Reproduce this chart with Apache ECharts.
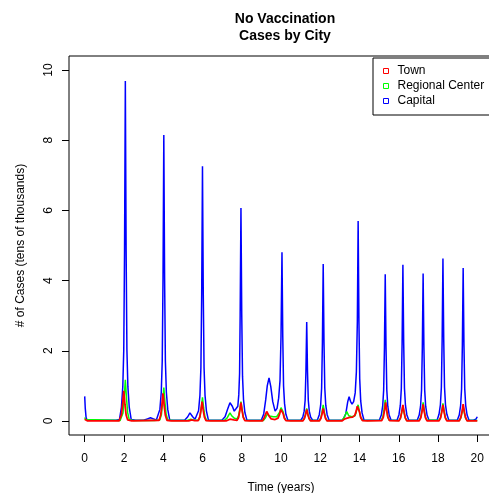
<!DOCTYPE html>
<html>
<head>
<meta charset="utf-8">
<script src="https://cdn.jsdelivr.net/npm/echarts@6/dist/echarts.min.js"></script>
<style>
  html, body { margin: 0; padding: 0; background: #fff; }
  #chart { width: 489px; height: 493px; }
</style>
</head>
<body>
<div id="chart"></div>
<script>
// time (years), cases (tens of thousands)
var capitalPts = [
  [0,0.70],[0.03,0.35],[0.07,0.10],[0.12,0.03],[0.3,0.02],[1.6,0.02],
  [1.77,0.04],[1.87,0.39],[1.94,0.97],[1.99,2.03],[2.03,4.85],[2.07,9.69],[2.11,4.85],[2.15,2.03],[2.20,0.97],[2.27,0.39],[2.37,0.04],
  [2.6,0.02],[3.0,0.02],[3.2,0.06],[3.35,0.09],[3.5,0.06],[3.65,0.03],
  [3.73,0.03],[3.83,0.33],[3.90,0.82],[3.95,1.71],[3.99,4.08],[4.03,8.15],[4.07,4.08],[4.11,1.71],[4.16,0.82],[4.23,0.33],[4.33,0.03],
  [4.6,0.02],[5.1,0.03],[5.25,0.12],[5.36,0.23],[5.5,0.12],[5.62,0.05],
  [5.70,0.03],[5.80,0.29],[5.87,0.73],[5.92,1.52],[5.96,3.63],[6.00,7.26],[6.04,3.63],[6.08,1.52],[6.13,0.73],[6.20,0.29],[6.30,0.03],
  [6.6,0.02],[7.0,0.03],[7.15,0.12],[7.27,0.32],[7.4,0.52],[7.52,0.42],[7.62,0.28],[7.72,0.25],[7.80,0.42],[7.85,0.75],[7.89,1.35],[7.92,3.04],[7.96,6.07],[8.00,3.04],[8.04,1.27],[8.09,0.61],[8.16,0.24],[8.26,0.03],
  [8.6,0.02],[9.0,0.03],[9.12,0.2],[9.22,0.6],[9.3,1.0],[9.39,1.23],[9.48,0.98],[9.58,0.55],[9.7,0.28],[9.8,0.36],[9.88,0.65],[9.95,1.15],[10.0,2.4],[10.05,4.81],[10.09,2.4],[10.13,1.0],[10.18,0.5],[10.25,0.19],[10.35,0.02],
  [10.7,0.02],[11.01,0.02],[11.11,0.11],[11.18,0.28],[11.23,0.59],[11.27,1.41],[11.31,2.82],[11.35,1.41],[11.39,0.59],[11.44,0.28],[11.51,0.11],[11.61,0.02],
  [11.85,0.02],[11.95,0.18],[12.02,0.45],[12.07,0.94],[12.11,2.24],[12.15,4.47],[12.19,2.24],[12.23,0.94],[12.28,0.45],[12.35,0.18],[12.45,0.02],
  [12.9,0.02],[13.15,0.03],[13.3,0.2],[13.4,0.55],[13.47,0.69],[13.54,0.56],[13.62,0.48],[13.7,0.55],[13.78,0.8],[13.84,1.4],[13.89,2.85],[13.93,5.70],[13.97,2.85],[14.01,1.2],[14.06,0.57],[14.13,0.23],[14.23,0.02],
  [14.7,0.02],[15.01,0.02],[15.11,0.17],[15.18,0.42],[15.23,0.88],[15.27,2.09],[15.31,4.18],[15.35,2.09],[15.39,0.88],[15.44,0.42],[15.51,0.17],[15.61,0.02],
  [15.91,0.02],[16.01,0.18],[16.08,0.45],[16.13,0.93],[16.17,2.23],[16.21,4.45],[16.25,2.23],[16.29,0.93],[16.34,0.45],[16.41,0.18],[16.51,0.02],
  [16.94,0.02],[17.04,0.17],[17.11,0.42],[17.16,0.88],[17.20,2.1],[17.24,4.2],[17.28,2.1],[17.32,0.88],[17.37,0.42],[17.44,0.17],[17.54,0.02],
  [17.95,0.02],[18.05,0.19],[18.12,0.46],[18.17,0.97],[18.21,2.32],[18.25,4.63],[18.29,2.32],[18.33,0.97],[18.38,0.46],[18.45,0.19],[18.55,0.02],
  [18.98,0.02],[19.08,0.17],[19.15,0.44],[19.20,0.92],[19.24,2.18],[19.28,4.36],[19.32,2.18],[19.36,0.92],[19.41,0.44],[19.48,0.17],[19.58,0.02],
  [19.8,0.02],[19.93,0.05],[20.0,0.12]
];
var regionalPts = [
  [0,0.1],[0.05,0.04],[0.12,0.01],[1.8,0.01],
  [1.87,0.04],[1.95,0.23],[2.01,0.64],[2.07,1.17],[2.13,0.64],[2.19,0.23],[2.27,0.04],[2.5,0.01],
  [3.3,0.01],[3.4,0.03],[3.55,0.01],
  [3.83,0.03],[3.91,0.19],[3.97,0.52],[4.03,0.95],[4.09,0.52],[4.15,0.19],[4.23,0.03],[4.5,0.01],
  [5.2,0.01],[5.4,0.05],[5.6,0.02],
  [5.80,0.02],[5.88,0.13],[5.94,0.37],[6.00,0.67],[6.06,0.37],[6.12,0.13],[6.20,0.02],[6.5,0.01],
  [7.1,0.01],[7.25,0.08],[7.4,0.23],[7.5,0.14],[7.62,0.08],[7.76,0.06],[7.84,0.15],[7.90,0.32],[7.96,0.55],[8.02,0.32],[8.08,0.11],[8.16,0.02],[8.4,0.01],
  [9.1,0.01],[9.2,0.08],[9.3,0.2],[9.42,0.14],[9.6,0.12],[9.78,0.12],[9.87,0.15],[9.94,0.26],[10.0,0.38],[10.05,0.43],[10.11,0.26],[10.17,0.1],[10.25,0.02],[10.5,0.01],
  [11.11,0.01],[11.19,0.07],[11.25,0.2],[11.31,0.36],[11.37,0.2],[11.43,0.07],[11.51,0.01],
  [11.95,0.01],[12.03,0.09],[12.09,0.25],[12.15,0.46],[12.21,0.25],[12.27,0.09],[12.35,0.01],
  [13.1,0.01],[13.22,0.1],[13.35,0.27],[13.45,0.15],[13.6,0.12],[13.75,0.14],[13.82,0.22],[13.88,0.38],[13.93,0.46],[13.99,0.28],[14.06,0.1],[14.15,0.02],[14.4,0.01],
  [15.11,0.02],[15.19,0.12],[15.25,0.33],[15.31,0.60],[15.37,0.33],[15.43,0.12],[15.51,0.02],
  [16.01,0.01],[16.09,0.09],[16.15,0.24],[16.21,0.43],[16.27,0.24],[16.33,0.09],[16.41,0.01],
  [17.04,0.02],[17.12,0.11],[17.18,0.29],[17.24,0.53],[17.30,0.29],[17.36,0.11],[17.44,0.02],
  [18.05,0.02],[18.13,0.1],[18.19,0.28],[18.25,0.50],[18.31,0.28],[18.37,0.1],[18.45,0.02],
  [19.08,0.01],[19.16,0.08],[19.22,0.23],[19.28,0.41],[19.34,0.23],[19.40,0.08],[19.48,0.01],
  [20.0,0.01]
];
var townPts = [
  [0,0.05],[0.06,0.01],[0.15,0],[1.75,0],
  [1.79,0.03],[1.87,0.17],[1.93,0.47],[1.99,0.86],[2.05,0.47],[2.11,0.17],[2.19,0.03],[2.4,0],
  [3.79,0.02],[3.87,0.16],[3.93,0.43],[3.99,0.79],[4.05,0.43],[4.11,0.16],[4.19,0.02],[4.4,0],
  [5.3,0],[5.45,0.03],[5.6,0.01],
  [5.78,0.01],[5.86,0.11],[5.92,0.3],[5.98,0.55],[6.04,0.3],[6.10,0.11],[6.18,0.01],[6.4,0],
  [7.2,0],[7.4,0.05],[7.6,0.03],[7.76,0.02],[7.84,0.1],[7.90,0.29],[7.96,0.52],[8.02,0.29],[8.08,0.1],[8.16,0.01],[8.4,0],
  [9.05,0],[9.15,0.1],[9.27,0.27],[9.38,0.15],[9.5,0.06],[9.7,0.04],[9.85,0.08],[9.93,0.2],[9.99,0.33],[10.05,0.38],[10.11,0.21],[10.17,0.08],[10.25,0.01],[10.5,0],
  [11.11,0],[11.19,0.07],[11.25,0.18],[11.31,0.33],[11.37,0.18],[11.43,0.07],[11.51,0],
  [11.95,0],[12.03,0.07],[12.09,0.2],[12.15,0.36],[12.21,0.2],[12.27,0.07],[12.35,0],
  [13.1,0],[13.25,0.06],[13.35,0.1],[13.5,0.1],[13.65,0.11],[13.76,0.16],[13.83,0.28],[13.89,0.42],[13.94,0.47],[14.0,0.26],[14.06,0.1],[14.15,0.01],[14.4,0],
  [15.13,0.01],[15.21,0.1],[15.27,0.29],[15.33,0.53],[15.39,0.29],[15.45,0.1],[15.53,0.01],
  [16.01,0],[16.09,0.09],[16.15,0.25],[16.21,0.46],[16.27,0.25],[16.33,0.09],[16.41,0],
  [17.04,0],[17.12,0.09],[17.18,0.26],[17.24,0.47],[17.30,0.26],[17.36,0.09],[17.44,0],
  [18.05,0],[18.13,0.09],[18.19,0.25],[18.25,0.46],[18.31,0.25],[18.37,0.09],[18.45,0],
  [19.08,0],[19.16,0.1],[19.22,0.26],[19.28,0.48],[19.34,0.26],[19.40,0.1],[19.48,0],
  [20.0,0]
];
var xTicks = [0, 2, 4, 6, 8, 10, 12, 14, 16, 18, 20];
var yTicks = [0, 2, 4, 6, 8, 10];

var font = '"Liberation Sans", Arial, Helvetica, sans-serif';
var chart = echarts.init(document.getElementById("chart"));

var option = {
  animation: false,
  backgroundColor: "#fff",
  textStyle: { fontFamily: font, color: "#000" },
  title: {
    text: "No Vaccination\nCases by City",
    left: 280,
    top: 6,
    textAlign: "center",
    textStyle: { fontFamily: font, fontSize: 14, fontWeight: "bold", color: "#000", lineHeight: 17 }
  },
  legend: {
    orient: "vertical",
    left: 373,
    top: 58,
    padding: [6, 30, 7, 10],
    itemGap: 1,
    itemWidth: 5,
    itemHeight: 5,
    icon: "rect",
    borderColor: "#000",
    borderWidth: 1,
    backgroundColor: "#fff",
    textStyle: { fontFamily: font, fontSize: 12, color: "#000", lineHeight: 14, padding: [0, 0, 0, 4] },
    data: [
      { name: "Town", itemStyle: { color: "#fff", borderColor: "#ff0000", borderWidth: 1 } },
      { name: "Regional Center", itemStyle: { color: "#fff", borderColor: "#00ff00", borderWidth: 1 } },
      { name: "Capital", itemStyle: { color: "#fff", borderColor: "#0000ff", borderWidth: 1 } }
    ]
  },
  grid: {
    left: 69,
    top: 56,
    width: 424,
    height: 379,
    outerBoundsMode: "none",
    containLabel: false,
    show: true,
    borderColor: "#000",
    borderWidth: 1
  },
  xAxis: {
    type: "value",
    min: -0.8,
    max: 20.8,
    name: "Time (years)",
    nameLocation: "middle",
    nameGap: 47,
    nameTextStyle: { fontFamily: font, fontSize: 12, color: "#000" },
    splitLine: { show: false },
    axisLine: { show: false, onZero: false },
    axisTick: { show: true, length: 7, customValues: xTicks, lineStyle: { color: "#000" } },
    axisLabel: { customValues: xTicks, margin: 18, fontFamily: font, fontSize: 12, color: "#000" }
  },
  yAxis: {
    type: "value",
    min: -0.4,
    max: 10.4,
    name: "# of Cases (tens of thousands)",
    nameLocation: "middle",
    nameGap: 42,
    nameTextStyle: { fontFamily: font, fontSize: 12, color: "#000" },
    splitLine: { show: false },
    axisLine: { show: false, onZero: false },
    axisTick: { show: true, length: 7, customValues: yTicks, lineStyle: { color: "#000" } },
    axisLabel: { customValues: yTicks, rotate: 90, margin: 14, fontFamily: font, fontSize: 12, color: "#000" }
  },
  series: [
    {
      name: "Capital",
      type: "line",
      data: capitalPts,
      showSymbol: false,
      lineStyle: { color: "#0000ff", width: 1.5 },
      itemStyle: { color: "#0000ff" }
    },
    {
      name: "Regional Center",
      type: "line",
      data: regionalPts,
      showSymbol: false,
      lineStyle: { color: "#00ff00", width: 1.5 },
      itemStyle: { color: "#00ff00" }
    },
    {
      name: "Town",
      type: "line",
      data: townPts,
      showSymbol: false,
      lineStyle: { color: "#ff0000", width: 1.8 },
      itemStyle: { color: "#ff0000" }
    }
  ]
};
chart.setOption(option);
</script>
</body>
</html>
